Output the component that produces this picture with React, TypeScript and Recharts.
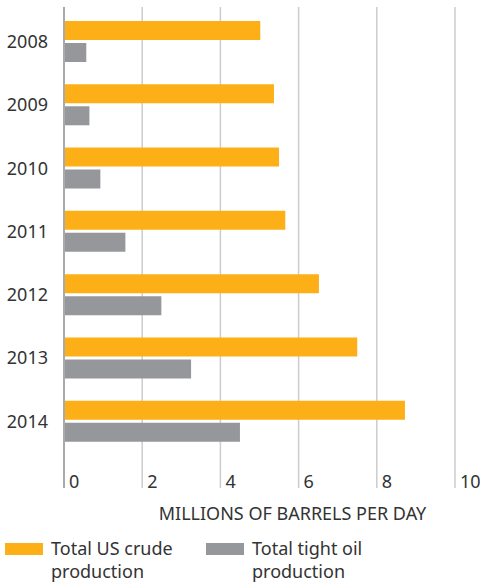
import React from "react";
import { BarChart, Bar, XAxis, YAxis, CartesianGrid, Legend, Label } from "recharts";

const years = ["2008", "2009", "2010", "2011", "2012", "2013", "2014"];
const crude = [5.02, 5.37, 5.5, 5.66, 6.52, 7.5, 8.72];
const tightOil = [0.57, 0.65, 0.93, 1.57, 2.49, 3.25, 4.5];
const xTicks = [0, 2, 4, 6, 8, 10];

const data = years.map((year, i) => ({ year, crude: crude[i], tight: tightOil[i] }));

const FONT = "'Noto Sans', sans-serif";
const ORANGE = "#FCAF17";
const GRAY = "#96979B";

const XTick = ({ x, y, payload }: any) => (
  <text x={x + 5} y={y} fill="#333" fontSize={18} fontFamily={FONT}>
    {payload.value}
  </text>
);

const LegendBox = () => {
  const items = [
    { color: ORANGE, lines: ["Total US crude", "production"], width: 201 },
    { color: GRAY, lines: ["Total tight oil", "production"], width: 240 },
  ];
  return (
    <div style={{ display: "flex", paddingLeft: 5, fontFamily: FONT, fontSize: 18, color: "#333" }}>
      {items.map((it) => (
        <div key={it.lines[0]} style={{ display: "flex", width: it.width }}>
          <div style={{ width: 38, height: 12, background: it.color, marginTop: 6, marginRight: 8, flexShrink: 0 }} />
          <div style={{ lineHeight: "23px", textAlign: "left" }}>
            {it.lines[0]}
            <br />
            {it.lines[1]}
          </div>
        </div>
      ))}
    </div>
  );
};

export default function App() {
  return (
    <div style={{ position: "absolute", left: 0, top: 0 }}>
      <BarChart
        width={480}
        height={582}
        data={data}
        layout="vertical"
        barSize={19}
        barGap={3}
        margin={{ top: 7, right: 25, left: 0, bottom: 64 }}
      >
        <CartesianGrid horizontal={false} stroke="#cccccc" strokeWidth={1.5} />
        <XAxis
          type="number"
          domain={[0, 10]}
          ticks={xTicks}
          axisLine={false}
          tickLine={false}
          tickSize={0}
          tickMargin={0}
          tick={<XTick />}
          height={30}
        >
          <Label
            value="MILLIONS OF BARRELS PER DAY"
            position="insideTop"
            offset={19}
            dx={33}
            fill="#333"
            fontSize={18}
            fontFamily={FONT}
          />
        </XAxis>
        <YAxis
          type="category"
          dataKey="year"
          width={64}
          padding={{ top: 3, bottom: 35 }}
          axisLine={{ stroke: "#aaaaaa", strokeWidth: 2 }}
          tickLine={false}
          tickSize={0}
          tickMargin={16}
          tick={{ fill: "#333", fontSize: 18, fontFamily: FONT }}
        />
        <Legend
          verticalAlign="middle"
          align="center"
          layout="horizontal"
          content={<LegendBox />}
          wrapperStyle={{ top: 537, left: 0, width: 480 }}
        />
        <Bar dataKey="crude" fill={ORANGE} isAnimationActive={false} />
        <Bar dataKey="tight" fill={GRAY} isAnimationActive={false} />
      </BarChart>
    </div>
  );
}
